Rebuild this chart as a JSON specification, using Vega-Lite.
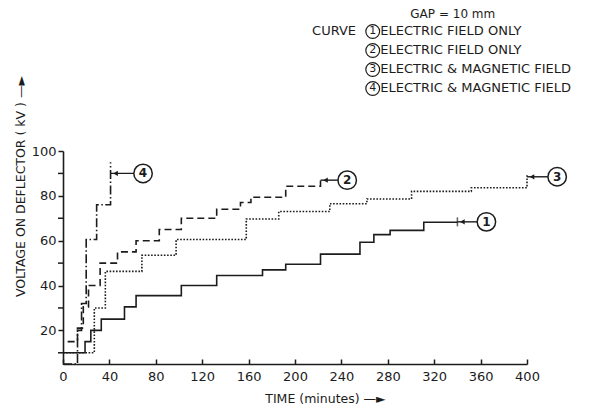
{
  "$schema": "https://vega.github.io/schema/vega-lite/v6.json",
  "width": 464,
  "height": 213,
  "autosize": "none",
  "padding": {"left": 63, "top": 151, "right": 75, "bottom": 43},
  "background": "white",
  "config": {"font": "DejaVu Sans", "view": {"stroke": null}},
  "datasets": {
    "curves": [
      {"curve": "1", "t": 0, "v": 10}, {"curve": "1", "t": 19, "v": 15}, {"curve": "1", "t": 24, "v": 20},
      {"curve": "1", "t": 33, "v": 25}, {"curve": "1", "t": 53, "v": 30.5}, {"curve": "1", "t": 63, "v": 35.5},
      {"curve": "1", "t": 102, "v": 40}, {"curve": "1", "t": 132.5, "v": 44.5}, {"curve": "1", "t": 172, "v": 47},
      {"curve": "1", "t": 192, "v": 49.5}, {"curve": "1", "t": 222, "v": 54}, {"curve": "1", "t": 256, "v": 59.3},
      {"curve": "1", "t": 268, "v": 62.7}, {"curve": "1", "t": 282, "v": 64.6}, {"curve": "1", "t": 311, "v": 68.2},
      {"curve": "1", "t": 340, "v": 68.2},
      {"curve": "2", "t": 4, "v": 15}, {"curve": "2", "t": 12.5, "v": 21}, {"curve": "2", "t": 17.5, "v": 30.5},
      {"curve": "2", "t": 22, "v": 40}, {"curve": "2", "t": 32, "v": 50}, {"curve": "2", "t": 47, "v": 55},
      {"curve": "2", "t": 63, "v": 60}, {"curve": "2", "t": 83, "v": 65}, {"curve": "2", "t": 102, "v": 70},
      {"curve": "2", "t": 132.5, "v": 74}, {"curve": "2", "t": 153, "v": 77}, {"curve": "2", "t": 162, "v": 79.4},
      {"curve": "2", "t": 192, "v": 84.3}, {"curve": "2", "t": 222, "v": 88},
      {"curve": "3", "t": 0, "v": 10}, {"curve": "3", "t": 27, "v": 30}, {"curve": "3", "t": 36.5, "v": 46.3},
      {"curve": "3", "t": 68, "v": 53.5}, {"curve": "3", "t": 97.5, "v": 60.5}, {"curve": "3", "t": 158, "v": 69.7},
      {"curve": "3", "t": 186, "v": 73}, {"curve": "3", "t": 230, "v": 76.5}, {"curve": "3", "t": 262, "v": 78.6},
      {"curve": "3", "t": 300.5, "v": 82}, {"curve": "3", "t": 352, "v": 83.6}, {"curve": "3", "t": 400, "v": 90},
      {"curve": "4", "t": 0, "v": 5}, {"curve": "4", "t": 12.5, "v": 20}, {"curve": "4", "t": 16, "v": 32},
      {"curve": "4", "t": 20, "v": 60.5}, {"curve": "4", "t": 29, "v": 76}, {"curve": "4", "t": 41, "v": 95}
    ],
    "ends": [
      {"curve": "1", "t_end": 340, "t_label": 365, "v_label": 68.4},
      {"curve": "2", "t_end": 222, "t_label": 245, "v_label": 87},
      {"curve": "3", "t_end": 400, "t_label": 426, "v_label": 88.5},
      {"curve": "4", "t_end": 41, "t_label": 69, "v_label": 90}
    ],
    "legend": [
      {"curve": "1", "desc": "ELECTRIC FIELD ONLY"},
      {"curve": "2", "desc": "ELECTRIC FIELD ONLY"},
      {"curve": "3", "desc": "ELECTRIC & MAGNETIC FIELD"},
      {"curve": "4", "desc": "ELECTRIC & MAGNETIC FIELD"}
    ],
    "minorTicks": [{"tick": 10}, {"tick": 30}, {"tick": 50}, {"tick": 70}, {"tick": 90}]
  },
  "layer": [
    {
      "data": {"name": "curves"},
      "mark": {"type": "line", "interpolate": "step-after", "color": "#1c1c1c"},
      "encoding": {
        "x": {
          "field": "t", "type": "quantitative",
          "scale": {"domain": [0, 400], "nice": false, "zero": false},
          "axis": {
            "values": [0, 40, 80, 120, 160, 200, 240, 280, 320, 360, 400],
            "title": "TIME (minutes) —►",
            "grid": false, "tickSize": -5, "labelFlush": false, "labelPadding": 11,
            "labelFontSize": 13, "labelColor": "#1c1c1c",
            "domainColor": "#1c1c1c", "domainWidth": 1.6, "tickColor": "#1c1c1c", "tickWidth": 1.5,
            "titleFontSize": 12.5, "titleFontWeight": "normal", "titleColor": "#1c1c1c",
            "titleX": 262, "titleY": 34, "titleAlign": "center", "titleBaseline": "middle"
          }
        },
        "y": {
          "field": "v", "type": "quantitative",
          "scale": {"domain": [5, 100], "nice": false, "zero": false},
          "axis": {
            "values": [20, 40, 60, 80, 100],
            "title": "VOLTAGE ON DEFLECTOR ( kV ) —►",
            "grid": false, "tickSize": 5, "labelPadding": 2, "labelFlush": false,
            "labelFontSize": 13, "labelColor": "#1c1c1c",
            "domainColor": "#1c1c1c", "domainWidth": 1.6, "tickColor": "#1c1c1c", "tickWidth": 1.5,
            "titleFontSize": 12.5, "titleFontWeight": "normal", "titleColor": "#1c1c1c",
            "titleX": -43, "titleY": 35, "titleAngle": 270, "titleAlign": "center", "titleBaseline": "middle"
          }
        },
        "strokeDash": {
          "field": "curve", "type": "nominal",
          "scale": {"domain": ["1", "2", "3", "4"], "range": [[1, 0], [7, 4], [1.6, 1.6], [9, 2.5, 1.5, 2.5]]},
          "legend": null
        },
        "strokeWidth": {
          "field": "curve", "type": "nominal",
          "scale": {"domain": ["1", "2", "3", "4"], "range": [1.6, 1.6, 5, 1.6]},
          "legend": null
        }
      }
    },
    {
      "data": {"name": "minorTicks"},
      "mark": {"type": "rule", "color": "#1c1c1c", "strokeWidth": 1.5, "xOffset": -5, "x2Offset": 0},
      "encoding": {
        "x": {"datum": 0},
        "x2": {"datum": 0},
        "y": {"field": "tick", "type": "quantitative"}
      }
    },
    {
      "data": {"name": "ends"},
      "mark": {"type": "rule", "color": "#1c1c1c", "strokeWidth": 1.4},
      "encoding": {
        "x": {"field": "t_end", "type": "quantitative"},
        "x2": {"field": "t_label"},
        "y": {"field": "v_label", "type": "quantitative"}
      }
    },
    {
      "data": {"name": "ends"},
      "mark": {"type": "point", "shape": "triangle-left", "filled": true, "color": "#1c1c1c", "size": 28, "xOffset": 5, "opacity": 1},
      "encoding": {
        "x": {"field": "t_end", "type": "quantitative"},
        "y": {"field": "v_label", "type": "quantitative"}
      }
    },
    {
      "data": {"name": "ends"},
      "transform": [{"filter": "datum.curve === '1'"}],
      "mark": {"type": "tick", "orient": "vertical", "color": "#1c1c1c", "size": 9, "thickness": 1.5},
      "encoding": {
        "x": {"field": "t_end", "type": "quantitative"},
        "y": {"field": "v_label", "type": "quantitative"}
      }
    },
    {
      "data": {"name": "ends"},
      "mark": {"type": "point", "shape": "circle", "filled": true, "fill": "white", "stroke": "#1c1c1c", "strokeWidth": 1.5, "size": 340, "opacity": 1},
      "encoding": {
        "x": {"field": "t_label", "type": "quantitative"},
        "y": {"field": "v_label", "type": "quantitative"}
      }
    },
    {
      "data": {"name": "ends"},
      "mark": {"type": "text", "fontSize": 12, "fontWeight": "bold", "color": "#1c1c1c", "baseline": "middle", "align": "center"},
      "encoding": {
        "x": {"field": "t_label", "type": "quantitative"},
        "y": {"field": "v_label", "type": "quantitative"},
        "text": {"field": "curve"}
      }
    },
    {
      "data": {"values": [{}]},
      "mark": {"type": "text", "fontSize": 12, "color": "#1c1c1c", "align": "center", "baseline": "middle", "text": "GAP = 10 mm"},
      "encoding": {"x": {"datum": 336}, "y": {"datum": 161.3}}
    },
    {
      "data": {"values": [{}]},
      "mark": {"type": "text", "fontSize": 13, "color": "#1c1c1c", "align": "left", "baseline": "middle", "text": "CURVE"},
      "encoding": {"x": {"datum": 214.7}, "y": {"datum": 153.3}}
    },
    {
      "data": {"name": "legend"},
      "mark": {"type": "point", "shape": "circle", "filled": false, "stroke": "#1c1c1c", "strokeWidth": 1.2, "size": 190, "opacity": 1},
      "encoding": {
        "x": {"datum": 267},
        "y": {"datum": 153.3},
        "yOffset": {"field": "curve", "type": "nominal", "scale": {"type": "point", "range": [0, 57], "padding": 0}}
      }
    },
    {
      "data": {"name": "legend"},
      "mark": {"type": "text", "fontSize": 11, "color": "#1c1c1c", "align": "center", "baseline": "middle"},
      "encoding": {
        "x": {"datum": 267},
        "y": {"datum": 153.3},
        "yOffset": {"field": "curve", "type": "nominal", "scale": {"type": "point", "range": [0, 57], "padding": 0}},
        "text": {"field": "curve"}
      }
    },
    {
      "data": {"name": "legend"},
      "mark": {"type": "text", "fontSize": 13, "color": "#1c1c1c", "align": "left", "baseline": "middle"},
      "encoding": {
        "x": {"datum": 273.5},
        "y": {"datum": 153.3},
        "yOffset": {"field": "curve", "type": "nominal", "scale": {"type": "point", "range": [0, 57], "padding": 0}},
        "text": {"field": "desc"}
      }
    }
  ]
}
